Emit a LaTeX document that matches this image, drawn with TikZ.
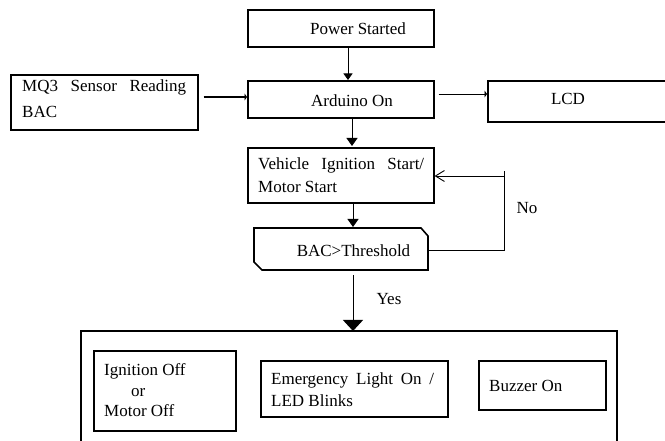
\documentclass[tikz,border=0pt]{standalone}
\usepackage{fontspec}
\setmainfont{Liberation Serif}
\usetikzlibrary{arrows.meta,calc}
\begin{document}
\begin{tikzpicture}[x=1pt,y=-1pt,
  box/.style={draw,line width=1.6pt,inner sep=0pt,anchor=north west},
  ghost/.style={inner sep=0pt,anchor=north west},
  txt/.style={inner sep=0pt,font=\fontsize{17}{20}\selectfont},
  conn/.style={line width=0.9pt},
  tri/.style={-{Triangle[width=9pt,length=6.5pt]}},
  midtri/.style={-{Triangle[width=11pt,length=8pt]}},
  bigtri/.style={-{Triangle[width=20pt,length=11pt]}},
  tick/.style={-{Triangle[width=7pt,length=2.5pt]}},
  barb/.style={-{Straight Barb[length=9pt,width=11pt]}}]
\useasboundingbox (0,0) rectangle (665,441);
\clip (0,0) rectangle (665,441);
% helper coordinates
\coordinate (c348) at (348,0);
\coordinate (c352) at (352,0);
\coordinate (c353) at (353,0);
\coordinate (c504) at (504,0);
\coordinate (c97) at (0,97);
\coordinate (c94) at (0,94);
\coordinate (c250) at (0,250);
\coordinate (c176) at (0,176);
\coordinate (c171) at (0,171);
% boxes
\node[box,minimum width=186pt,minimum height=37pt] (pw) at (247,9) {};
\node[box,minimum width=186pt,minimum height=37pt] (ard) at (247,80) {};
\node[box,minimum width=187pt,minimum height=55pt] (mq) at (10,74) {};
\node[box,minimum width=200pt,minimum height=41pt] (lcd) at (487,80) {};
\node[box,minimum width=186pt,minimum height=55pt] (veh) at (247,147) {};
\draw[line width=1.6pt] (254,228) -- (421,228) -- (428,236) -- (428,270) -- (262,270) -- (254,262) -- cycle;
\node[ghost,minimum width=174pt,minimum height=42pt] (bac) at (254,228) {};
\draw[line width=1.6pt] (81,450) -- (81,331) -- (617,331) -- (617,450);
\node[ghost,minimum width=536pt,minimum height=120pt] (out) at (81,331) {};
\node[box,minimum width=142pt,minimum height=80pt] (ign) at (93,350) {};
\node[box,minimum width=187pt,minimum height=56pt] (emg) at (260,360) {};
\node[box,minimum width=127pt,minimum height=49pt] (buz) at (478,360) {};
% texts
\node[txt,anchor=base] (tpw) at (358,35) {Power Started};
\node[txt,anchor=base] (tard) at (352,106.5) {Arduino On};
\node[txt,anchor=base] (tlcd) at (568,104.5) {LCD};
\node[txt,anchor=base west] (tmqa) at (22,92) {\hbox to 164pt{MQ3\hfill Sensor\hfill Reading}};
\node[txt,anchor=base west] (tmqb) at (22,118) {BAC};
\node[txt,anchor=base west] (tveha) at (258,170) {\hbox to 166pt{Vehicle\hfill Ignition\hfill Start/}};
\node[txt,anchor=base west] (tvehb) at (258,193) {Motor Start};
\node[txt,anchor=base] (tbac) at (353.5,256.7) {BAC>Threshold};
\node[txt,anchor=base] (tno) at (527,213.3) {No};
\node[txt,anchor=base] (tyes) at (389,305) {Yes};
\node[txt,anchor=base west] (tigna) at (104,375) {Ignition Off};
\node[txt,anchor=base west] (tignb) at (131,396) {or};
\node[txt,anchor=base west] (tignc) at (104,416.7) {Motor Off};
\node[txt,anchor=base west] (temga) at (271,384) {\hbox to 163pt{Emergency\hfill Light\hfill On\hfill /}};
\node[txt,anchor=base west] (temgb) at (271,406) {LED Blinks};
\node[txt,anchor=base west] (tbuz) at (489,391) {Buzzer On};
% connectors
\draw[conn,tri] (pw.south -| c348) -- (ard.north -| c348);
\draw[line width=1.4pt,tick,shorten <=5pt] (mq.east |- c97) -- (ard.west |- c97);
\draw[conn,tick,shorten <=4pt] (ard.east |- c94) -- (lcd.west |- c94);
\draw[conn,midtri,shorten >=1pt] (ard.south -| c352) -- (veh.north -| c352);
\draw[conn,midtri,shorten >=1pt] (veh.south -| c353) -- (bac.north -| c353);
\draw[conn,bigtri,shorten <=5pt] (bac.south -| c353) -- (out.north -| c353);
\draw[conn] (bac.east |- c250) -- (c504 |- c250) -- (c504 |- c171);
\draw[conn,barb] (c504 |- c176) -- (veh.east |- c176);
\end{tikzpicture}
\end{document}
